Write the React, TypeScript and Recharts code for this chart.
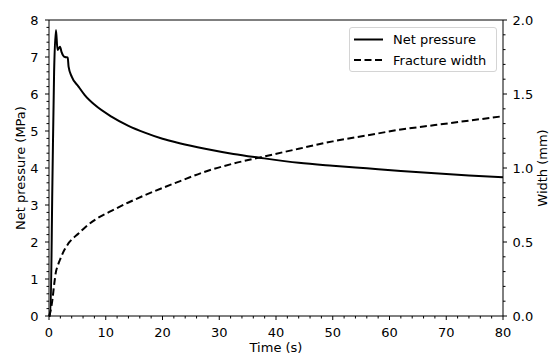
import { LineChart, Line, XAxis, YAxis, Legend, ReferenceLine, Label } from 'recharts';

// time (s), net pressure (MPa), fracture width (mm)
const time = [0, 0.25, 0.6, 0.9, 1.23, 1.5, 1.94, 2.2, 2.8, 3.3, 3.45, 4.0, 5.2, 6.3, 8.1, 11, 14, 17, 20, 23, 27.5, 32.5, 37, 44, 50, 56, 62, 68, 74, 80];
const netPressure = [0, 0, 3.6, 6.6, 7.73, 7.19, 7.28, 7.14, 7.0, 6.99, 6.74, 6.47, 6.2, 5.97, 5.7, 5.39, 5.14, 4.95, 4.79, 4.67, 4.52, 4.38, 4.28, 4.14, 4.06, 3.99, 3.92, 3.86, 3.8, 3.75];
const fractureWidth = [0, 0.03, 0.11, 0.21, 0.3, 0.335, 0.38, 0.405, 0.452, 0.483, 0.492, 0.516, 0.558, 0.597, 0.65, 0.71, 0.767, 0.818, 0.865, 0.91, 0.975, 1.03, 1.07, 1.13, 1.18, 1.22, 1.26, 1.29, 1.32, 1.35];

const timeLabels = [0, 10, 20, 30, 40, 50, 60, 70, 80];
const pressureLabels = [0, 1, 2, 3, 4, 5, 6, 7, 8];
const widthLabels = [0, 0.5, 1.0, 1.5, 2.0];

// minor ticks
const timeTicks = Array.from({ length: 41 }, (_, i) => i * 2);
const pressureTicks = Array.from({ length: 41 }, (_, i) => Math.round(i * 2) / 10);
const widthTicks = Array.from({ length: 21 }, (_, i) => i / 10);

const data = time.map((t, i) => ({ t, pressure: netPressure[i], width: fractureWidth[i] }));

const FONT = 'DejaVu Sans, sans-serif';

const isMajor = (majors: number[], v: number) => majors.some((m) => Math.abs(m - v) < 1e-6);

const makeTick = (side: 'bottom' | 'left' | 'right', majors: number[], fmt: (v: number) => string) =>
  (props: any) => {
    const { x, y, payload } = props;
    const v = payload.value;
    const major = isMajor(majors, v);
    const len = major ? 4 : 2.5;
    if (side === 'bottom') {
      return (
        <g>
          <line x1={x} x2={x} y1={y} y2={y + len} stroke="#000" strokeWidth={1} />
          {major && (
            <text x={x} y={y + 21} textAnchor="middle" fontSize={13} fill="#000" fontFamily={FONT}>
              {fmt(v)}
            </text>
          )}
        </g>
      );
    }
    if (side === 'left') {
      return (
        <g>
          <line x1={x - len} x2={x} y1={y} y2={y} stroke="#000" strokeWidth={1} />
          {major && (
            <text x={x - 10.5} y={y} dy="0.36em" textAnchor="end" fontSize={13} fill="#000" fontFamily={FONT}>
              {fmt(v)}
            </text>
          )}
        </g>
      );
    }
    return (
      <g>
        <line x1={x} x2={x + len} y1={y} y2={y} stroke="#000" strokeWidth={1} />
        {major && (
          <text x={x + 9.5} y={y} dy="0.36em" textAnchor="start" fontSize={13} fill="#000" fontFamily={FONT}>
            {fmt(v)}
          </text>
        )}
      </g>
    );
  };

const renderLegend = () => (
  <div
    style={{
      width: 148,
      height: 45,
      boxSizing: 'border-box',
      border: '1px solid #d4d4d4',
      borderRadius: 3,
      background: 'rgba(255,255,255,0.85)',
    }}
  >
    <svg width={146} height={43} style={{ display: 'block' }}>
      <line x1={4} x2={33} y1={11.5} y2={11.5} stroke="#000" strokeWidth={2} />
      <text x={43} y={11.5} dy="0.36em" fontSize={13} fill="#000" fontFamily={FONT}>
        Net pressure
      </text>
      <line x1={4} x2={33} y1={32} y2={32} stroke="#000" strokeWidth={2} strokeDasharray="7 3.5" />
      <text x={43} y={32} dy="0.36em" fontSize={13} fill="#000" fontFamily={FONT}>
        Fracture width
      </text>
    </svg>
  </div>
);

export default function App() {
  return (
    <div style={{ position: 'absolute', left: 0, top: 0, fontFamily: FONT }}>
      <LineChart width={550} height={356} data={data} margin={{ top: 20, right: 0, bottom: 0, left: 0 }}>
        <XAxis
          dataKey="t"
          type="number"
          domain={[0, 80]}
          ticks={timeTicks}
          interval={0}
          height={40}
          tickSize={0}
          tickMargin={0}
          tickLine={false}
          axisLine={{ stroke: '#000', strokeWidth: 1 }}
          tick={makeTick('bottom', timeLabels, (v) => String(v))}
        >
          <Label
            content={() => (
              <text x={276} y={352} textAnchor="middle" fontSize={13} fill="#000" fontFamily={FONT}>
                Time (s)
              </text>
            )}
          />
        </XAxis>
        <YAxis
          yAxisId="p"
          orientation="left"
          type="number"
          domain={[0, 8]}
          ticks={pressureTicks}
          interval={0}
          width={49}
          tickSize={0}
          tickMargin={0}
          tickLine={false}
          axisLine={{ stroke: '#000', strokeWidth: 1 }}
          tick={makeTick('left', pressureLabels, (v) => String(v))}
        >
          <Label
            content={() => (
              <text transform="translate(25,168) rotate(-90)" textAnchor="middle" fontSize={13} fill="#000" fontFamily={FONT}>
                Net pressure (MPa)
              </text>
            )}
          />
        </YAxis>
        <YAxis
          yAxisId="w"
          orientation="right"
          type="number"
          domain={[0, 2]}
          ticks={widthTicks}
          interval={0}
          width={47}
          tickSize={0}
          tickMargin={0}
          tickLine={false}
          axisLine={{ stroke: '#000', strokeWidth: 1 }}
          tick={makeTick('right', widthLabels, (v) => v.toFixed(1))}
        >
          <Label
            content={() => (
              <text transform="translate(546.5,168) rotate(-90)" textAnchor="middle" fontSize={13} fill="#000" fontFamily={FONT}>
                Width (mm)
              </text>
            )}
          />
        </YAxis>
        <ReferenceLine yAxisId="p" y={8} stroke="#000" strokeWidth={1} />
        <Line
          yAxisId="p"
          dataKey="pressure"
          type="monotone"
          stroke="#000"
          strokeWidth={2}
          dot={false}
          isAnimationActive={false}
        />
        <Line
          yAxisId="w"
          dataKey="width"
          type="monotone"
          stroke="#000"
          strokeWidth={2}
          strokeDasharray="7 3.5"
          dot={false}
          isAnimationActive={false}
        />
        <Legend
          layout="vertical"
          align="center"
          verticalAlign="middle"
          wrapperStyle={{ left: 349, top: 27, width: 148, height: 45 }}
          content={renderLegend}
        />
      </LineChart>
    </div>
  );
}
